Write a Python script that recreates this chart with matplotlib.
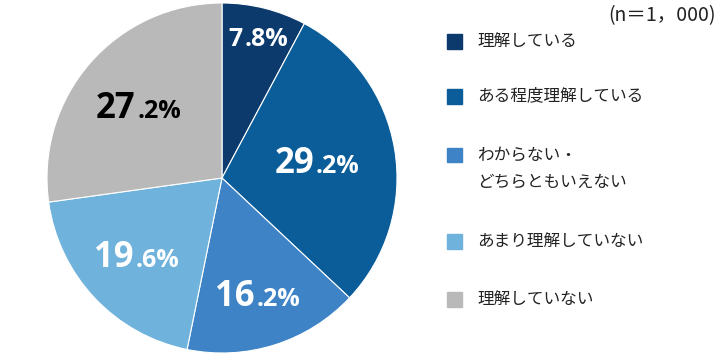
import numpy as np
import matplotlib
matplotlib.use("Agg")
import matplotlib.pyplot as plt
from matplotlib.patches import Rectangle

plt.rcParams['font.family'] = ['Noto Sans CJK JP', 'DejaVu Sans']

# data
categories = ["理解している", "ある程度理解している", "わからない・\nどちらともいえない",
              "あまり理解していない", "理解していない"]
values = [7.8, 29.2, 16.2, 19.6, 27.2]
colors = ["#0c3a6c", "#0a5d98", "#3d83c5", "#6fb2dc", "#b9b9b9"]
text_colors = ["white", "white", "white", "white", "black"]
n_note = "(n＝1，000)"

# layout (label distance from centre, in radius units)
label_r = [0.83, 0.56, 0.70, 0.655, 0.62]

fig = plt.figure(figsize=(7.2, 3.6), dpi=100)
ax = fig.add_axes([47 / 720, 7 / 360, 350 / 720, 350 / 360])

ax.pie(values, colors=colors, startangle=90, counterclock=False, radius=1,
       wedgeprops=dict(edgecolor="white", linewidth=0.8))
ax.set_xlim(-1, 1)
ax.set_ylim(-1, 1)
ax.set_aspect("equal")
ax.axis("off")

# percentage labels: whole part big, decimal part smaller
num_font = ["Open Sans", "DejaVu Sans"]
cum = np.cumsum([0] + values[:-1])
for i, v in enumerate(values):
    mid = np.deg2rad((cum[i] + v / 2) / 100 * 360)
    cx = label_r[i] * np.sin(mid)
    cy = label_r[i] * np.cos(mid)
    whole, dec = f"{v:.1f}".split(".")
    if v < 10:
        big, small, split, drop = 18, 18, 0.084, 9 / 175
    else:
        big, small, split, drop = 25, 18, 0.025, 11 / 175
    ax.text(cx - split, cy - drop, whole, ha="right", va="baseline", family=num_font,
            fontsize=big, fontweight="bold", color=text_colors[i])
    ax.text(cx - split + 0.01, cy - drop, "." + dec + "%", ha="left", va="baseline",
            family=num_font, fontsize=small, fontweight="bold", color=text_colors[i])

# legend drawn by hand
row_y = [41, 96, 155, 241, 299]
for i, cat in enumerate(categories):
    y = row_y[i]
    fig.patches.append(Rectangle((447 / 720, 1 - (y + 7.5) / 360), 15 / 720, 15 / 360,
                                 transform=fig.transFigure, color=colors[i]))
    for j, line in enumerate(cat.split("\n")):
        fig.text(477 / 720, 1 - (y + j * 27) / 360, line, ha="left", va="center",
                 fontsize=12, color="#222222")

fig.text(716 / 720, 1 - 16 / 360, n_note, ha="right", va="center",
         fontsize=14, color="#222222")

fig.savefig("out.png", dpi=100)
